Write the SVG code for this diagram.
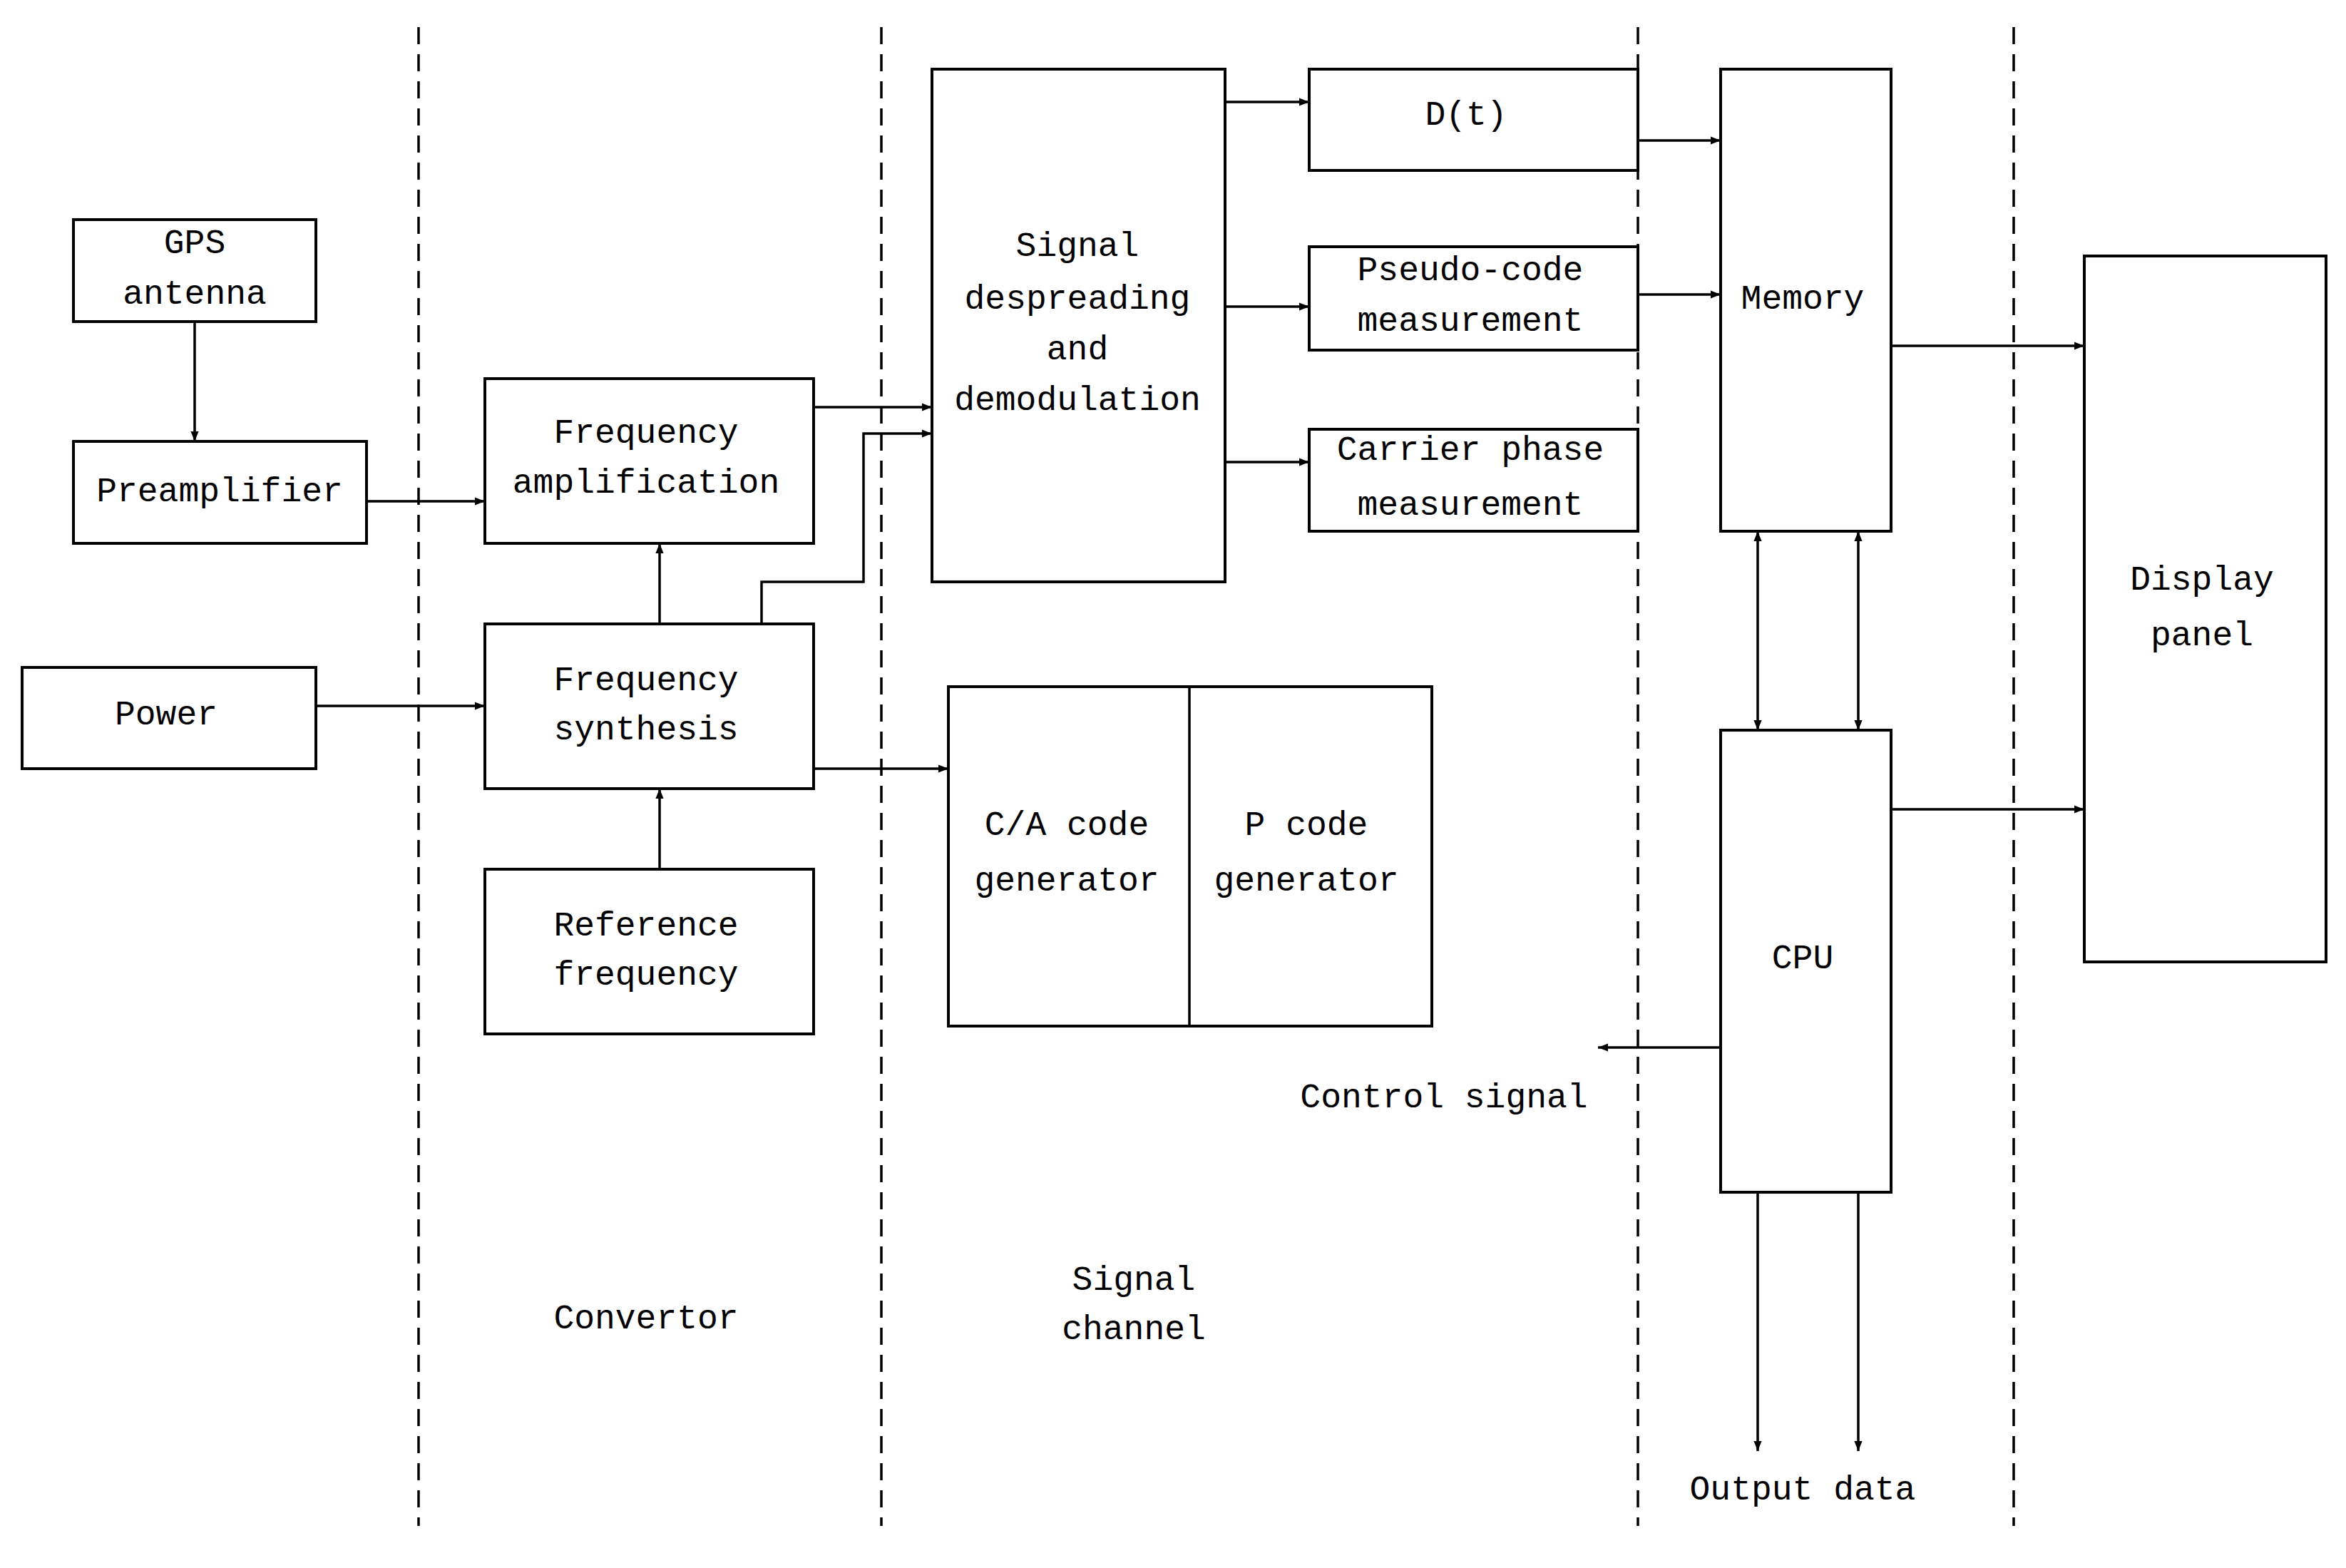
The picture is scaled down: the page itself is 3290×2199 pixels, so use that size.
<svg xmlns="http://www.w3.org/2000/svg" width="3290" height="2199" viewBox="0 0 3290 2199">
<style>
.b{fill:#fff;stroke:#000;stroke-width:4}
.c{fill:none;stroke:#000;stroke-width:3.5}
.d{fill:none;stroke:#000;stroke-width:3.5;stroke-dasharray:24 14}
text{font-family:"Liberation Mono",monospace;font-size:48px;text-anchor:middle;dominant-baseline:central;fill:#000}
</style>
<defs>
<marker id="a" viewBox="0 0 10 10" refX="10" refY="5" markerWidth="14" markerHeight="14" markerUnits="userSpaceOnUse" orient="auto-start-reverse"><path d="M0,1L10,5L0,9z" fill="#000"/></marker>
</defs>
<rect width="3290" height="2199" fill="#fff"/>
<g id="dividers">
<path class="d" d="M587,38V2140M1236,38V2140M2297,38V2140M2824,38V2140"/>
</g>
<g id="gps"><rect class="b" x="103" y="308" width="340" height="143"/><text x="273" y="342">GPS</text><text x="273" y="413">antenna</text></g>
<g id="pre"><rect class="b" x="103" y="619" width="411" height="143"/><text x="308" y="690">Preamplifier</text></g>
<g id="power"><rect class="b" x="31" y="936" width="412" height="142"/><text x="233" y="1003">Power</text></g>
<g id="famp"><rect class="b" x="680" y="531" width="461" height="231"/><text x="906" y="608">Frequency</text><text x="906" y="678">amplification</text></g>
<g id="fsyn"><rect class="b" x="680" y="875" width="461" height="231"/><text x="906" y="955">Frequency</text><text x="906" y="1024">synthesis</text></g>
<g id="ref"><rect class="b" x="680" y="1219" width="461" height="231"/><text x="906" y="1299">Reference</text><text x="906" y="1368">frequency</text></g>
<g id="sig"><rect class="b" x="1307" y="97" width="411" height="719"/><text x="1511" y="346">Signal</text><text x="1511" y="420">despreading</text><text x="1511" y="491">and</text><text x="1511" y="562">demodulation</text></g>
<g id="dt"><rect class="b" x="1836" y="97" width="461" height="142"/><text x="2056" y="162">D(t)</text></g>
<g id="pseudo"><rect class="b" x="1836" y="346" width="461" height="145"/><text x="2062" y="380">Pseudo-code</text><text x="2062" y="451">measurement</text></g>
<g id="carrier"><rect class="b" x="1836" y="602" width="461" height="143"/><text x="2062" y="632">Carrier phase</text><text x="2062" y="709">measurement</text></g>
<g id="codes"><rect class="b" x="1330" y="963" width="678" height="476"/><path class="c" d="M1668,963V1439"/><text x="1496" y="1158">C/A code</text><text x="1496" y="1236">generator</text><text x="1832" y="1158">P code</text><text x="1832" y="1236">generator</text></g>
<g id="memory"><rect class="b" x="2413" y="97" width="239" height="648"/><text x="2528" y="420">Memory</text></g>
<g id="cpu"><rect class="b" x="2413" y="1024" width="239" height="648"/><text x="2528" y="1345">CPU</text></g>
<g id="display"><rect class="b" x="2923" y="359" width="339" height="990"/><text x="3088" y="814">Display</text><text x="3088" y="892">panel</text></g>
<g id="labels"><text x="2025" y="1540">Control signal</text><text x="906" y="1850">Convertor</text><text x="1590" y="1796">Signal</text><text x="1590" y="1865">channel</text><text x="2528" y="2090">Output data</text></g>
<g id="connectors">
<path class="c" marker-end="url(#a)" d="M273,451V619"/>
<path class="c" marker-end="url(#a)" d="M514,703H680"/>
<path class="c" marker-end="url(#a)" d="M443,990H680"/>
<path class="c" marker-end="url(#a)" d="M925,875V762"/>
<path class="c" marker-end="url(#a)" d="M925,1219V1106"/>
<path class="c" marker-end="url(#a)" d="M1141,571H1307"/>
<path class="c" marker-end="url(#a)" d="M1068,875V816H1211V608H1307"/>
<path class="c" marker-end="url(#a)" d="M1141,1078H1330"/>
<path class="c" marker-end="url(#a)" d="M1718,143H1836"/>
<path class="c" marker-end="url(#a)" d="M1718,430H1836"/>
<path class="c" marker-end="url(#a)" d="M1718,648H1836"/>
<path class="c" marker-end="url(#a)" d="M2297,197H2413"/>
<path class="c" marker-end="url(#a)" d="M2297,413H2413"/>
<path class="c" marker-end="url(#a)" d="M2652,485H2923"/>
<path class="c" marker-end="url(#a)" d="M2652,1135H2923"/>
<path class="c" marker-start="url(#a)" marker-end="url(#a)" d="M2465,745V1024"/>
<path class="c" marker-start="url(#a)" marker-end="url(#a)" d="M2606,745V1024"/>
<path class="c" marker-end="url(#a)" d="M2413,1469H2241"/>
<path class="c" marker-end="url(#a)" d="M2465,1672V2035"/>
<path class="c" marker-end="url(#a)" d="M2606,1672V2035"/>
</g>
</svg>
